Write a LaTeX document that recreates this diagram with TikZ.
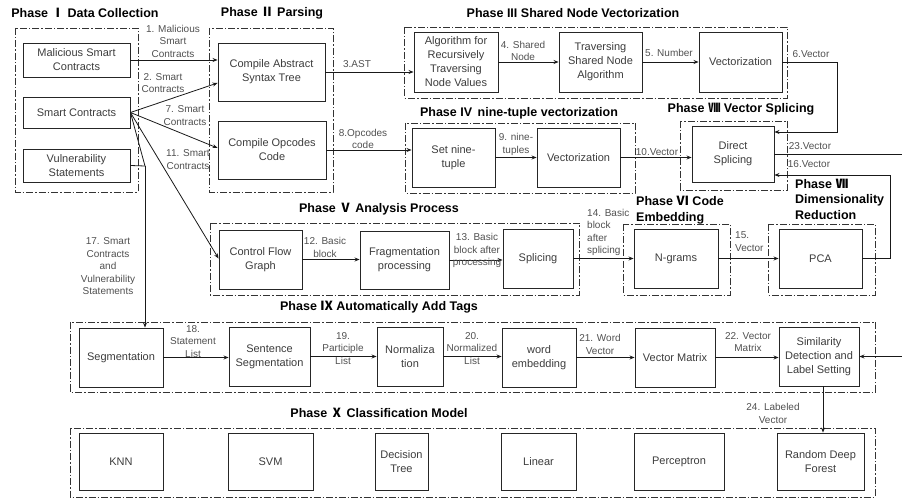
\documentclass[tikz,border=0pt]{standalone}
\usepackage{fontspec}
\setmainfont{Liberation Sans}
\newfontfamily\cjkfont{Noto Sans CJK SC}
\usetikzlibrary{arrows.meta}
\definecolor{boxtext}{HTML}{3C3C3C}
\definecolor{labeltext}{HTML}{505050}
% Roman numerals taken from the CJK font
\newcommand\romnum[1]{{\cjkfont #1}}

\begin{document}
\begin{tikzpicture}[x=1pt,y=-1pt,
  box/.style={draw=black!85, line width=0.9pt, align=center, text=boxtext,
    font=\fontsize{11}{14}\selectfont, inner sep=1pt},
  frame/.style={draw=black!80, line width=0.7pt,
    dash pattern=on 7pt off 2pt on 1.5pt off 2pt},
  lbl/.style={align=center, text=labeltext, font=\fontsize{10}{12.5}\selectfont, inner sep=0pt},
  ttl/.style={font=\fontsize{12.5}{15.5}\selectfont\bfseries, inner sep=0pt},
  conn/.style={draw=black!90, line width=0.8pt, -{Stealth[length=5pt,width=4pt]}},
  wire/.style={draw=black!90, line width=0.8pt}
]
\useasboundingbox (0,0) rectangle (902,502);

% ---------- phase frames ----------
\draw[frame] (15,28) rectangle (138,192);
\draw[frame] (209,28) rectangle (333,192);
\draw[frame] (404,27) rectangle (787,98);
\draw[frame] (405,123) rectangle (635,193);
\draw[frame] (680,121) rectangle (787,190);
\draw[frame] (210,223) rectangle (579,295);
\draw[frame] (623,224) rectangle (730,295);
\draw[frame] (768,224) rectangle (875,295);
\draw[frame] (70,322) rectangle (875,392);
\draw[frame] (70,428) rectangle (875,497);

% ---------- phase titles ----------
\node[ttl] (t1) at (85,13) {Phase \romnum{Ⅰ} Data Collection};
\node[ttl] (t2) at (272,13) {Phase \romnum{Ⅱ} Parsing};
\node[ttl] (t3) at (573,13) {Phase III Shared Node Vectorization};
\node[ttl] (t4) at (519,113) {Phase IV\, nine-tuple vectorization};
\node[ttl] (t8) at (741,109) {Phase \romnum{Ⅷ} Vector Splicing};
\node[ttl] (t5) at (379,209) {Phase \romnum{Ⅴ} Analysis Process};
\node[ttl, anchor=west, align=left] (t6) at (636,210) {Phase \romnum{Ⅵ} Code\\Embedding};
\node[ttl, anchor=west, align=left] (t7) at (795,199) {Phase \romnum{Ⅶ}\\Dimensionality\\Reduction};
\node[ttl] (t9) at (379,307) {Phase \romnum{Ⅸ} Automatically Add Tags};
\node[ttl] (t10) at (379,413) {Phase \romnum{Ⅹ} Classification Model};

% ---------- Phase I ----------
\node[box, minimum width=107, minimum height=34] (mal) at (76.5,60) {Malicious Smart\\Contracts};
\node[box, minimum width=107, minimum height=31] (sc) at (76.5,112.5) {Smart Contracts};
\node[box, minimum width=107, minimum height=33] (vul) at (76.5,165.5) {Vulnerability\\Statements};

% ---------- Phase II ----------
\node[box, minimum width=107, minimum height=58] (ast) at (271.5,72) {Compile Abstract\\Syntax Tree};
\node[box, minimum width=108, minimum height=58] (opc) at (272,150) {Compile Opcodes\\Code};

% ---------- Phase III ----------
\node[box, minimum width=84, minimum height=60] (alg) at (456,62) {Algorithm for\\Recursively\\Traversing\\Node Values};
\node[box, minimum width=83, minimum height=60] (trav) at (600.5,62) {Traversing\\Shared Node\\Algorithm};
\node[box, minimum width=83, minimum height=60] (vecA) at (740.5,62) {Vectorization};

% ---------- Phase IV ----------
\node[box, minimum width=83, minimum height=59] (nine) at (453.5,157.5) {Set nine-\\tuple};
\node[box, minimum width=83, minimum height=59] (vecB) at (578.5,157.5) {Vectorization};

% ---------- Phase VIII ----------
\node[box, minimum width=82, minimum height=56] (dsp) at (733,154) {Direct\\Splicing};

% ---------- Phase V ----------
\node[box, minimum width=83, minimum height=59] (cfg) at (260.5,259.5) {Control Flow\\Graph};
\node[box, minimum width=89, minimum height=58] (frag) at (404.5,260) {Fragmentation\\processing};
\node[box, minimum width=70, minimum height=59] (spl) at (538,258.5) {Splicing};

% ---------- Phase VI / VII ----------
\node[box, minimum width=84, minimum height=59] (ngr) at (676,258.5) {N-grams};
\node[box, minimum width=83, minimum height=59] (pca) at (820.5,258.5) {PCA};

% ---------- Phase IX ----------
\node[box, minimum width=84, minimum height=59] (seg) at (121,357.5) {Segmentation};
\node[box, minimum width=81, minimum height=59] (sent) at (269.5,356.5) {Sentence\\Segmentation};
\node[box, minimum width=66, minimum height=59] (norm) at (410,356.5) {Normaliza\\tion};
\node[box, minimum width=74, minimum height=59] (emb) at (539,357.5) {word\\embedding};
\node[box, minimum width=80, minimum height=59] (vmat) at (675,357.5) {Vector Matrix};
\node[box, minimum width=80, minimum height=59] (sim) at (819,356.5) {Similarity\\Detection and\\Label Setting};

% ---------- Phase X ----------
\node[box, minimum width=84, minimum height=57] (knn) at (121,461.5) {KNN};
\node[box, minimum width=85, minimum height=57] (svm) at (270.5,461.5) {SVM};
\node[box, minimum width=53, minimum height=57] (dt) at (401.5,461.5) {Decision\\Tree};
\node[box, minimum width=75, minimum height=57] (lin) at (538.5,461.5) {Linear};
\node[box, minimum width=90, minimum height=57] (perc) at (679,461.5) {Perceptron};
\node[box, minimum width=87, minimum height=57] (rdf) at (820.5,461.5) {Random Deep\\Forest};

% ---------- routing points ----------
\coordinate (j17) at (145,166);
\coordinate (k6) at (837,132);
\coordinate (k16) at (890,175);
\coordinate (k23) at (906,154);

% ---------- connectors ----------
\draw[conn] (mal.east) -- (mal.east -| ast.west);
\draw[conn] (sc.east) -- ([yshift=-11pt]ast.west);
\draw[conn] (sc.east) -- ([yshift=2pt]opc.west);
\draw[conn] (sc.east) -- ([yshift=1pt]cfg.west);
\draw[wire] (sc.east) -- (j17);
\draw[wire] (vul.east) -- (j17);
\draw[conn] (j17) -- (j17 |- seg.north);

\draw[conn] (ast.east) -- (ast.east -| alg.west);
\draw[conn] (alg.east) -- (trav.west);
\draw[conn] (trav.east) -- (vecA.west);
\draw[conn] (vecA.east) -| (k6) -- (k6 -| dsp.east);

\draw[conn] (opc.east) -- (opc.east -| nine.west);
\draw[conn] (nine.east) -- (vecB.west);
\draw[conn] (vecB.east) -- (vecB.east -| dsp.west);

\draw[conn] (dsp.east) -- (k23) |- (sim.east);
\draw[conn] (pca.east) -| (k16) -- (k16 -| dsp.east);

\draw[conn] (cfg.east) -- (cfg.east -| frag.west);
\draw[conn] (frag.east) -- (frag.east -| spl.west);
\draw[conn] (spl.east) -- (ngr.west);
\draw[conn] (ngr.east) -- (pca.west);

\draw[conn] (seg.east) -- (seg.east -| sent.west);
\draw[conn] (sent.east) -- (norm.west);
\draw[conn] (norm.east) -- (norm.east -| emb.west);
\draw[conn] (emb.east) -- (vmat.west);
\draw[conn] (vmat.east) -- (vmat.east -| sim.west);
\draw[conn] ([xshift=4pt]sim.south) -- ([xshift=4pt]sim.south |- rdf.north);

% ---------- connector labels ----------
\node[lbl] (l1) at (173,41) {1. Malicious\\Smart\\Contracts};
\node[lbl] (l2) at (163,83) {2. Smart\\Contracts};
\node[lbl] (l7) at (185,115.5) {7. Smart\\Contracts};
\node[lbl] (l11) at (188,159.5) {11. Smart\\Contracts};
\node[lbl] (l17) at (108,266.5) {17. Smart\\Contracts\\and\\Vulnerability\\Statements};
\node[lbl] (l3) at (357,64) {3.AST};
\node[lbl] (l4) at (523,51) {4. Shared\\Node};
\node[lbl] (l5) at (669,53) {5. Number};
\node[lbl] (l6) at (811,54) {6.Vector};
\node[lbl] (l8) at (363,139) {8.Opcodes\\code};
\node[lbl] (l9) at (516,144.5) {9. nine-\\tuples};
\node[lbl] (l10) at (657,152) {10.Vector};
\node[lbl] (l23) at (810,146) {23.Vector};
\node[lbl] (l16) at (809,164) {16.Vector};
\node[lbl] (l12) at (325,247.5) {12. Basic\\block};
\node[lbl] (l13) at (477,250.5) {13. Basic\\block after\\processing};
\node[lbl, anchor=west, align=left] (l14) at (587,232.5) {14. Basic\\block\\after\\splicing};
\node[lbl, anchor=west, align=left] (l15) at (735,241.5) {15.\\Vector};
\node[lbl] (l18) at (193,341.5) {18.\\Statement\\List};
\node[lbl] (l19) at (343,348.5) {19.\\Participle\\List};
\node[lbl] (l20) at (472,348.5) {20.\\Normalized\\List};
\node[lbl] (l21) at (600,344.5) {21. Word\\Vector};
\node[lbl] (l22) at (748,342) {22. Vector\\Matrix};
\node[lbl] (l24) at (773,413.5) {24. Labeled\\Vector};

\end{tikzpicture}
\end{document}
